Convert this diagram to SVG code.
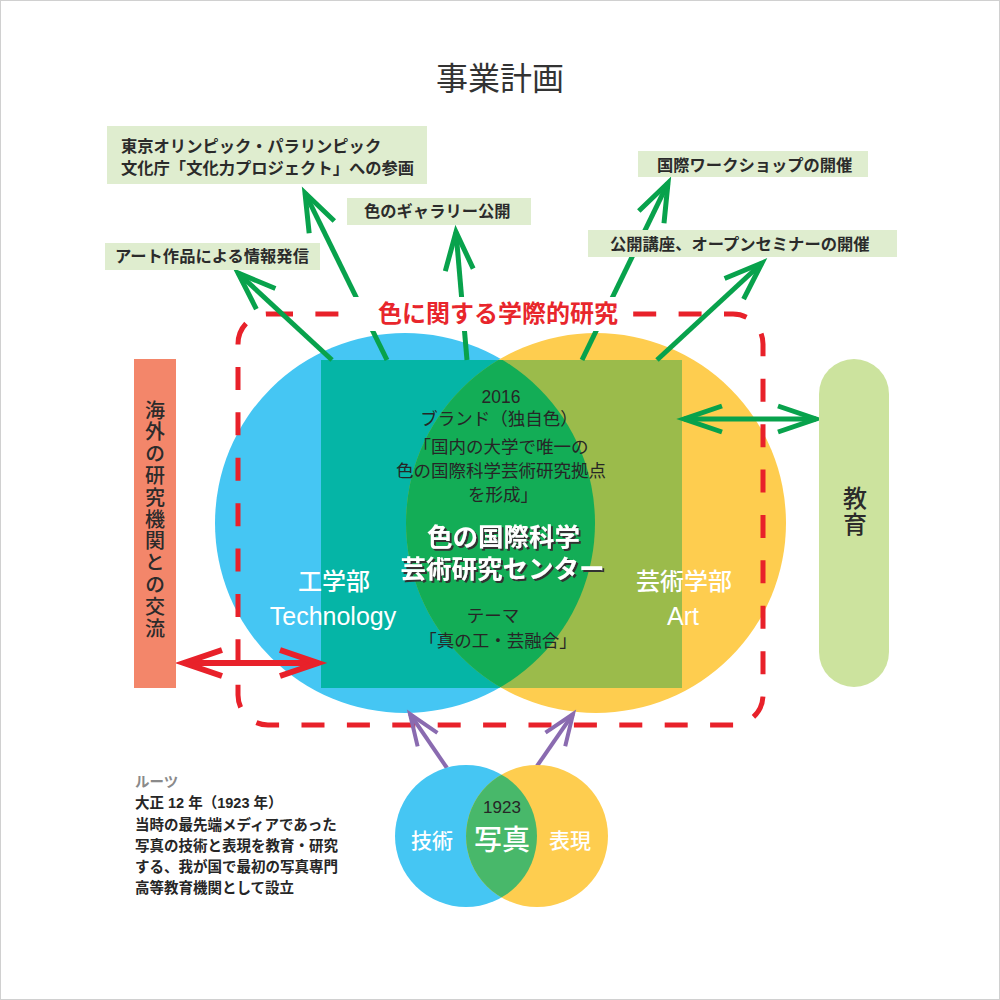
<svg xmlns="http://www.w3.org/2000/svg" width="1000" height="1000" viewBox="0 0 1000 1000">
<style>
  .jp { font-family: "Noto Sans CJK JP", "Noto Sans", sans-serif; }
  .lat { font-family: "Liberation Sans", "Noto Sans CJK JP", sans-serif; }
  .box { fill: #dfedcf; }
  .boxt { font-family: "Noto Sans CJK JP", sans-serif; font-size: 16.3px; font-weight: 700; fill: #2b2b2b; }
  .garrow { stroke: #08a24c; stroke-width: 5; fill: none; }
  .dark { fill: #2b2b2b; }
  .white { fill: #ffffff; }
  .vert { writing-mode: vertical-rl; }
  .roots { font-family: "Liberation Sans", "Noto Sans CJK JP", sans-serif; font-size: 14.5px; font-weight: 700; fill: #262626; }
  .center { font-family: "Liberation Sans", "Noto Sans CJK JP", sans-serif; font-size: 17.5px; fill: #262626; text-anchor: middle; }
</style>
<defs>
  <filter id="sh" x="-10%" y="-30%" width="120%" height="160%">
    <feDropShadow dx="2" dy="2" stdDeviation="0.3" flood-color="#333333" flood-opacity="1"/>
  </filter>
  <marker id="ag" markerUnits="userSpaceOnUse" orient="auto" refX="0" refY="0" markerWidth="60" markerHeight="60" viewBox="-45 -30 60 60" overflow="visible">
    <path d="M-38,-14 L0,0 L-38,14" fill="none" stroke="#08a24c" stroke-width="5"/>
  </marker>
  <marker id="ag2" markerUnits="userSpaceOnUse" orient="auto-start-reverse" refX="0" refY="0" markerWidth="60" markerHeight="60" viewBox="-45 -30 60 60" overflow="visible">
    <path d="M-38,-13 L0,0 L-38,13" fill="none" stroke="#08a24c" stroke-width="5"/>
  </marker>
  <marker id="ar" markerUnits="userSpaceOnUse" orient="auto-start-reverse" refX="0" refY="0" markerWidth="60" markerHeight="60" viewBox="-45 -30 60 60" overflow="visible">
    <path d="M-38,-13 L0,0 L-38,13" fill="none" stroke="#e8212a" stroke-width="6"/>
  </marker>
  <marker id="ap" markerUnits="userSpaceOnUse" orient="auto" refX="0" refY="0" markerWidth="60" markerHeight="60" viewBox="-45 -30 60 60" overflow="visible">
    <path d="M-31,-12 L0,0 L-31,12" fill="none" stroke="#8a6bb0" stroke-width="4"/>
  </marker>
  <clipPath id="cRect"><rect x="321" y="360" width="361" height="328"/></clipPath>
  <clipPath id="cYellow"><circle cx="596" cy="523" r="190"/></clipPath>
  <clipPath id="cYellowS"><circle cx="537" cy="836" r="71"/></clipPath>
</defs>

<rect x="0.5" y="0.5" width="999" height="999" fill="#ffffff" stroke="#d0d0d0"/>

<text class="jp" x="500" y="90" font-size="32" fill="#333" text-anchor="middle">事業計画</text>

<!-- main venn -->
<g id="venn-main">
  <circle cx="405" cy="523" r="190" fill="#45c6f3"/>
  <circle cx="596" cy="523" r="190" fill="#fecd4f"/>
  <g clip-path="url(#cRect)">
    <circle cx="405" cy="523" r="190" fill="#05b5a6"/>
    <circle cx="596" cy="523" r="190" fill="#9bbb4b"/>
    <circle cx="405" cy="523" r="190" fill="#13ad56" clip-path="url(#cYellow)"/>
  </g>
</g>

<!-- connectors -->
<g id="connectors">
  <path d="M270,314 H733 A30,30 0 0 1 763,344 V695 A30,30 0 0 1 733,725 H268 A30,30 0 0 1 238,695 V344 A30,30 0 0 1 268,314 Z" fill="none" stroke="#e8212a" stroke-width="5" stroke-dasharray="23 22.4"/>
  <line class="garrow" x1="332" y1="360" x2="238" y2="273" marker-end="url(#ag)"/>
  <line class="garrow" x1="387" y1="360" x2="305" y2="193" marker-end="url(#ag)"/>
  <line class="garrow" x1="467" y1="360" x2="456" y2="232" marker-end="url(#ag)"/>
  <line class="garrow" x1="582" y1="360" x2="668" y2="183" marker-end="url(#ag)"/>
  <line class="garrow" x1="657" y1="360" x2="762" y2="263" marker-end="url(#ag)"/>
  <line x1="184" y1="663" x2="318" y2="663" stroke="#e8212a" stroke-width="6" marker-start="url(#ar)" marker-end="url(#ar)"/>
  <line x1="684" y1="419" x2="816" y2="419" stroke="#08a24c" stroke-width="5" marker-start="url(#ag2)" marker-end="url(#ag2)"/>
  <line x1="447" y1="768" x2="410" y2="714" stroke="#8a6bb0" stroke-width="4" marker-end="url(#ap)"/>
  <line x1="537" y1="766" x2="573" y2="714" stroke="#8a6bb0" stroke-width="4" marker-end="url(#ap)"/>
</g>

<g id="research-title">
  <rect x="348" y="297" width="282" height="34" fill="#ffffff"/>
  <text class="jp" x="498" y="322" font-size="24" font-weight="700" fill="#e8262c" text-anchor="middle">色に関する学際的研究</text>
</g>

<g id="venn-labels">
  <text class="jp white" x="334" y="590" font-size="24" font-weight="500" text-anchor="middle">工学部</text>
  <text class="lat white" x="333" y="625" font-size="25" text-anchor="middle">Technology</text>
  <text class="jp white" x="684" y="590" font-size="24" font-weight="500" text-anchor="middle">芸術学部</text>
  <text class="lat white" x="683" y="625" font-size="25" text-anchor="middle">Art</text>
</g>

<g id="center-node">
  <text class="center" x="501" y="403">2016</text>
  <text class="center" x="499" y="425">ブランド（独自色）</text>
  <text class="center" x="501" y="453">「国内の大学で唯一の</text>
  <text class="center" x="501" y="477">色の国際科学芸術研究拠点</text>
  <text class="center" x="503" y="501">を形成」</text>
  <g class="jp" font-size="25.5" font-weight="700" text-anchor="middle" fill="#fff" filter="url(#sh)">
    <text x="503.5" y="545.5">色の国際科学</text>
    <text x="502.5" y="577.5">芸術研究センター</text>
  </g>
  <text class="center" x="493" y="622">テーマ</text>
  <text class="center" x="498" y="647">「真の工・芸融合」</text>
</g>

<g id="box-art">
  <rect class="box" x="105" y="243" width="215" height="27"/>
  <text class="boxt" x="115" y="262">アート作品による情報発信</text>
</g>
<g id="box-olympic">
  <rect class="box" x="107" y="126" width="320" height="58"/>
  <text class="boxt" x="121" y="152">東京オリンピック・パラリンピック</text>
  <text class="boxt" x="121" y="174">文化庁「文化力プロジェクト」への参画</text>
</g>
<g id="box-gallery">
  <rect class="box" x="347" y="198" width="184" height="27"/>
  <text class="boxt" x="364" y="217">色のギャラリー公開</text>
</g>
<g id="box-workshop">
  <rect class="box" x="638" y="151" width="230" height="26"/>
  <text class="boxt" x="657" y="171">国際ワークショップの開催</text>
</g>
<g id="box-seminar">
  <rect class="box" x="588" y="230" width="309" height="27"/>
  <text class="boxt" x="610" y="250">公開講座、オープンセミナーの開催</text>
</g>

<g id="overseas">
  <rect x="134" y="359" width="42" height="329" fill="#f3866a"/>
  <text class="jp dark vert" x="155" y="400" font-size="20" font-weight="500" letter-spacing="1.8">海外の研究機関との交流</text>
</g>

<g id="education">
  <rect x="819" y="359" width="70" height="328" rx="35" ry="35" fill="#cce39e"/>
  <text class="jp dark vert" x="855" y="486" font-size="24" font-weight="500" letter-spacing="2">教育</text>
</g>

<g id="venn-photo">
  <circle cx="466" cy="836" r="71" fill="#45c6f3"/>
  <circle cx="537" cy="836" r="71" fill="#fecd4f"/>
  <circle cx="466" cy="836" r="71" fill="#48b86a" clip-path="url(#cYellowS)"/>
  <text class="lat" x="502" y="813" font-size="17" fill="#262626" text-anchor="middle">1923</text>
  <text class="jp white" x="502" y="850" font-size="28" font-weight="500" text-anchor="middle">写真</text>
  <text class="jp white" x="432" y="848" font-size="21" font-weight="500" text-anchor="middle">技術</text>
  <text class="jp white" x="570" y="848" font-size="21" font-weight="500" text-anchor="middle">表現</text>
</g>

<g id="roots">
  <text class="roots" x="135" y="787" style="fill:#8a8a8a">ルーツ</text>
  <text class="roots" x="135" y="808">大正 12 年（1923 年）</text>
  <text class="roots" x="135" y="830">当時の最先端メディアであった</text>
  <text class="roots" x="135" y="851">写真の技術と表現を教育・研究</text>
  <text class="roots" x="135" y="872">する、我が国で最初の写真専門</text>
  <text class="roots" x="135" y="893">高等教育機関として設立</text>
</g>
</svg>
